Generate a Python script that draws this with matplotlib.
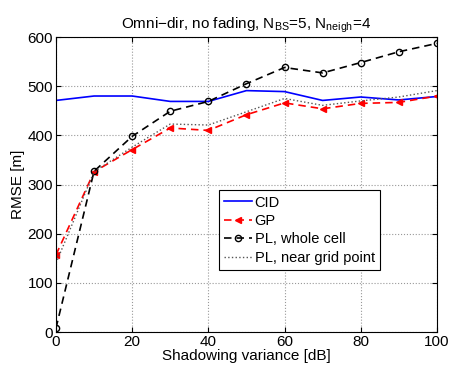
import numpy as np
import matplotlib
matplotlib.use("Agg")
import matplotlib.pyplot as plt

plt.rcParams['font.family'] = ['Liberation Sans', 'DejaVu Sans']
plt.rcParams['mathtext.default'] = 'regular'

shadowing = [0, 10, 20, 30, 40, 50, 60, 70, 80, 90, 100]
cid = [471, 480, 480, 469, 469, 491, 489, 471, 478, 472, 479]
gp = [157, 326, 371, 415, 410, 442, 466, 454, 465, 467, 480]
pl_cell = [8, 327, 398, 449, 469, 505, 538, 527, 548, 570, 587]
pl_grid = [140, 326, 376, 423, 421, 448, 475, 461, 470, 478, 491]

fig = plt.figure(figsize=(4.49, 3.72), dpi=100)
ax = fig.add_axes([0.1247, 0.1075, 0.8483, 0.793])

dash = (0, (4.5, 3))
ax.plot(shadowing, cid, color='blue', lw=1.2, label='CID')
ax.plot(shadowing, gp, color='red', ls=dash, lw=1.2, marker='<', ms=5,
        mfc='red', mec='red', label='GP')
ax.plot(shadowing, pl_cell, color='black', ls=dash, lw=1.2, marker='o', ms=4.5,
        mfc='none', mec='black', label='PL, whole cell')
ax.plot(shadowing, pl_grid, color='#555555', ls=':', lw=1.0,
        label='PL, near grid point')

ax.set_xlim(0, 100)
ax.set_ylim(0, 600)
ax.set_xticks(np.arange(0, 101, 20))
ax.set_yticks(np.arange(0, 601, 100))
ax.grid(True, ls=':', color='#999999', lw=0.8)
ax.tick_params(direction='in', top=True, right=True, labelsize=11, pad=2)
ax.set_xlabel('Shadowing variance [dB]', fontsize=11, labelpad=0)
ax.set_ylabel('RMSE [m]', fontsize=11, labelpad=2)
ax.set_title('Omni\u2212dir, no fading, N$_{BS}$=5, N$_{neigh}$=4', fontsize=11, pad=6)

leg = ax.legend(loc='upper left', bbox_to_anchor=(0.428, 0.48), fontsize=10.5,
                fancybox=False, edgecolor='black', framealpha=1,
                handlelength=1.9, handletextpad=0.2, borderpad=0.35,
                labelspacing=0.3, borderaxespad=0)
leg.get_frame().set_linewidth(0.8)

fig.savefig('out.png', dpi=100)
